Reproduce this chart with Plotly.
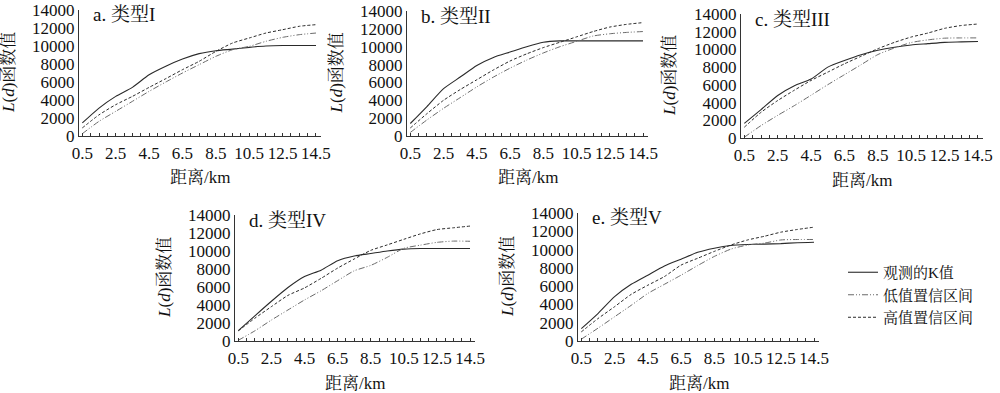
import plotly.graph_objects as go

DIST = [0.5, 1.5, 2.5, 3.5, 4.5, 5.5, 6.5, 7.5, 8.5, 9.5, 10.5, 11.5, 12.5, 13.5, 14.5]

TITLES = ["a. 类型I", "b. 类型II", "c. 类型III", "d. 类型IV", "e. 类型V"]
SERIES_NAMES = ["观测的K值", "低值置信区间", "高值置信区间"]
X_TICKS = [0.5, 2.5, 4.5, 6.5, 8.5, 10.5, 12.5, 14.5]
Y_TICKS = [0, 2000, 4000, 6000, 8000, 10000, 12000, 14000]
X_TITLE = "距离/km"
Y_TITLE = "<i>L</i>(<i>d</i>)函数值"

OBS_A = [1450, 3100, 4400, 5400, 6800, 7750, 8550, 9150, 9480, 9650, 9850, 10000, 10050, 10050, 10050]
LOW_A = [260, 1630, 2740, 3850, 4960, 6000, 7000, 7930, 8850, 9590, 9960, 10520, 10960, 11260, 11440]
HIGH_A = [900, 2350, 3480, 4400, 5400, 6370, 7370, 8300, 9400, 10330, 10890, 11440, 11810, 12190, 12370]

OBS_B = [1400, 3300, 5300, 6600, 7900, 8800, 9400, 10000, 10500, 10650, 10650, 10650, 10650, 10650, 10650]
LOW_B = [400, 1800, 3100, 4300, 5500, 6600, 7600, 8500, 9300, 10000, 10600, 11200, 11450, 11600, 11700]
HIGH_B = [900, 2500, 4000, 5200, 6300, 7400, 8400, 9200, 9900, 10500, 11100, 11700, 12200, 12500, 12700]

OBS_C = [1650, 3200, 4800, 5900, 6650, 8000, 8750, 9400, 9900, 10250, 10500, 10650, 10800, 10850, 10900]
LOW_C = [90, 1400, 2560, 3660, 4830, 6020, 7150, 8280, 9420, 10170, 10780, 11080, 11270, 11300, 11300]
HIGH_C = [1220, 2900, 4230, 5400, 6500, 7440, 8380, 9230, 10080, 10800, 11400, 11850, 12380, 12700, 12870]

OBS_D = [1150, 2800, 4420, 5950, 7170, 7870, 8920, 9450, 9720, 10000, 10210, 10280, 10280, 10280, 10280]
LOW_D = [80, 1130, 2330, 3450, 4560, 5580, 6700, 7800, 8400, 9300, 10300, 10650, 10960, 11100, 11080]
HIGH_D = [1130, 2530, 3820, 5070, 5900, 6960, 8100, 9110, 10070, 10680, 11300, 11900, 12380, 12580, 12770]

OBS_E = [1350, 3000, 4850, 6200, 7200, 8200, 8950, 9700, 10150, 10450, 10550, 10600, 10650, 10750, 10800]
LOW_E = [200, 1400, 2650, 3900, 5200, 6200, 7200, 8250, 9250, 10050, 10500, 10700, 11050, 11100, 11100]
HIGH_E = [1000, 2450, 3750, 5100, 6100, 7050, 8300, 9050, 9800, 10500, 11050, 11450, 11900, 12200, 12450]

PANELS = [
    (OBS_A, LOW_A, HIGH_A),
    (OBS_B, LOW_B, HIGH_B),
    (OBS_C, LOW_C, HIGH_C),
    (OBS_D, LOW_D, HIGH_D),
    (OBS_E, LOW_E, HIGH_E),
]

W, H = 1000, 393
# pixel boxes: (left, right, top(14000), bottom(0))
BOXES = [
    (79, 321, 10, 136),
    (407, 648, 11, 136),
    (741, 983, 14, 138),
    (235, 475, 215, 341),
    (578, 819, 213, 341),
]

FONT = "Liberation Serif, Times New Roman, Noto Serif CJK SC, Noto Sans CJK SC, serif"
STYLES = [
    dict(color="#2a2a2a", width=1.1, dash="solid"),
    dict(color="#6a6a6a", width=1.0, dash="6px,2px,1px,2px,1px,2px"),
    dict(color="#2a2a2a", width=1.0, dash="3px,2px"),
]
TXT = dict(family=FONT, size=17, color="#111")

fig = go.Figure()
layout = dict()
annotations = []
for i, (series, box) in enumerate(zip(PANELS, BOXES)):
    n = "" if i == 0 else str(i + 1)
    l, r, t, b = box
    for j, vals in enumerate(series):
        fig.add_trace(go.Scatter(
            x=DIST, y=vals, mode="lines", name=SERIES_NAMES[j],
            line=dict(shape="spline", smoothing=0.6, **STYLES[j]),
            xaxis="x" + n, yaxis="y" + n, showlegend=(i == 0),
        ))
    layout["xaxis" + n] = dict(
        domain=[l / W, r / W], anchor="y" + n, range=[0.3, 14.8],
        tickmode="array", tickvals=X_TICKS, ticktext=[str(v) for v in X_TICKS],
        ticks="inside", ticklen=3, tickcolor="#333", ticklabelstandoff=2,
        minor=dict(ticks="inside", tickmode="linear", tick0=0.5, dtick=0.5, ticklen=3, tickcolor="#333"),
        showline=True, linecolor="#333", linewidth=1, showgrid=False, zeroline=False,
        tickfont=TXT, automargin=False,
    )
    layout["yaxis" + n] = dict(
        domain=[1 - b / H, 1 - t / H], anchor="x" + n, range=[0, 14000],
        tickmode="array", tickvals=Y_TICKS, ticktext=[str(v) for v in Y_TICKS], ticks="",
        showline=True, linecolor="#333", linewidth=1, showgrid=False, zeroline=False,
        tickfont=TXT, automargin=False,
    )
    annotations.append(dict(
        text=TITLES[i], x=(l + 12) / W, y=1 - (t + 5) / H, xref="paper", yref="paper",
        xanchor="left", yanchor="middle", showarrow=False,
        font=dict(family=FONT, size=19, color="#111"),
    ))
    annotations.append(dict(
        text=X_TITLE, x=(l + r) / 2 / W, y=1 - (b + 42) / H, xref="paper", yref="paper",
        xanchor="center", yanchor="middle", showarrow=False, font=TXT,
    ))
    annotations.append(dict(
        text=Y_TITLE, x=(l - 71) / W, y=1 - (t + b) / 2 / H, xref="paper", yref="paper",
        xanchor="center", yanchor="middle", showarrow=False, textangle=-90, font=TXT,
    ))

fig.update_layout(
    width=W, height=H, margin=dict(l=0, r=0, t=0, b=0, autoexpand=False),
    plot_bgcolor="white", paper_bgcolor="white",
    annotations=annotations,
    legend=dict(x=0.843, y=1 - 256 / H, xanchor="left", yanchor="top",
                font=dict(family=FONT, size=15, color="#111"),
                bgcolor="rgba(0,0,0,0)", tracegroupgap=0, itemwidth=30),
    **layout,
)
fig.write_html("out.html", config={"displayModeBar": False},
               post_script="document.body.style.margin='0px';")
